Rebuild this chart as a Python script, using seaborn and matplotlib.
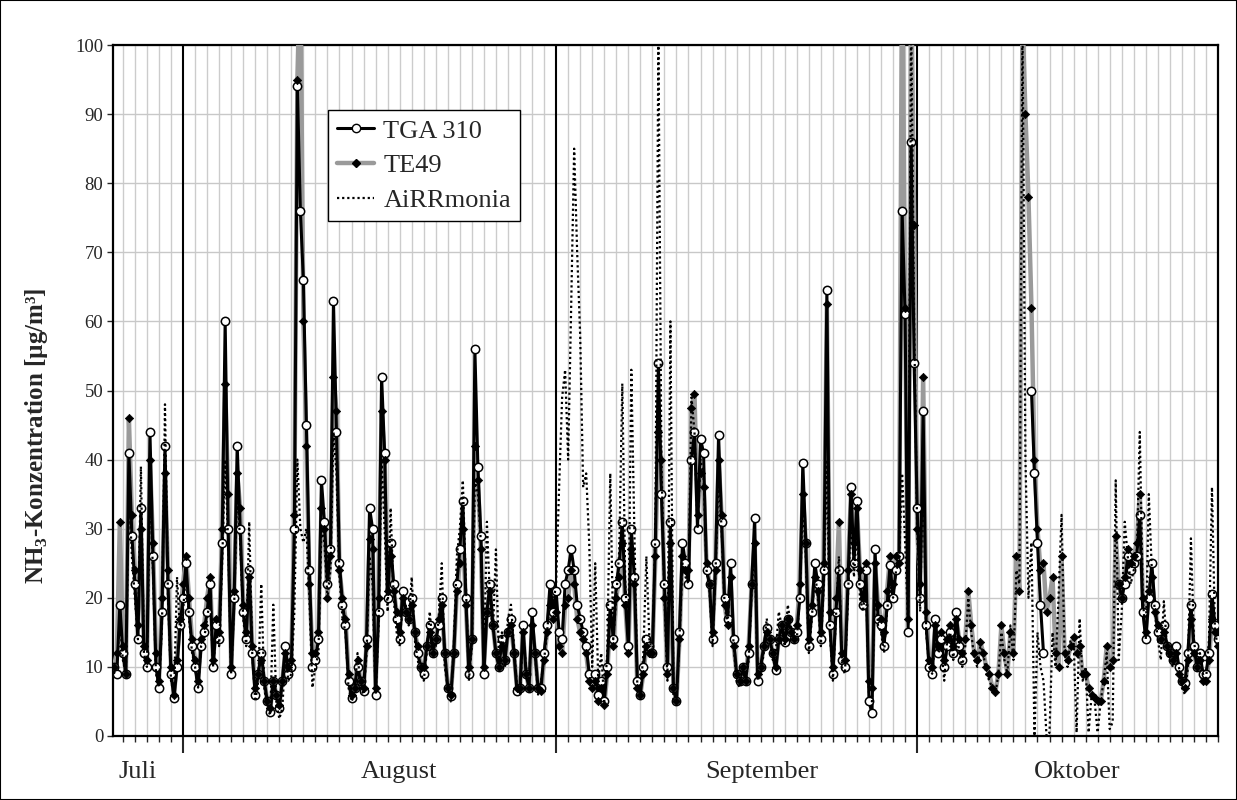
import matplotlib
matplotlib.use("Agg")
import matplotlib.pyplot as plt
import matplotlib.dates as mdates
from matplotlib.lines import Line2D
from matplotlib.patches import Rectangle
import seaborn as sns
import numpy as np
import pandas as pd

nan = np.nan

# 6-hourly values, first sample 26 July 06:00
start = "2010-07-26 06:00"

tga = [10, 9, 19,
       12, 9, 41, 29,  22, 14, 33, 12,  10, 44, 26, 10,  7, 18, 42, 22,  9, 5.5, 10, 16,
       20, 25, 18, 13,  10, 7, 13, 15,  18, 22, 10, 16,  14, 28, 60, 30,  9, 20, 42, 30,
       18, 14, 24, 12,  6, 9, 12, 8,  5, 3.5, 8, 6,  4, 8, 13, 9,  10, 30, 94, 76,
       66, 45, 24, 10,  11, 14, 37, 31,  22, 27, 63, 44,  25, 19, 16, 8,  5.5, 7, 10, 8,
       6.5, 14, 33, 30,  6, 18, 52, 41,  20, 28, 22, 17,  14, 21, 18, 17,  20, 15, 12, 10,
       9, 13, 16, 12,  14, 16, 20, 12,  7, 5.8, 12, 22,  27, 34, 20, 9,  14, 56, 39, 29,
       9, 18, 22, 16,  12, 10, 14, 11,  15, 17, 12, 6.5,  7, 16, 9, 7,  18, 12, 7, 7,
       12, 16, 22, 18,
       21, 15, 14, 22,  24, 27, 24, 19,  17, 15, 13, 9,  8, 9, 6, 8,  5, 10, 19, 14,
       22, 25, 31, 20,  13, 30, 23, 8,  6, 10, 14, 13,  12, 28, 54, 35,  22, 10, 31, 7,
       5, 15, 28, 25,  22, 40, 44, 30,  43, 41, 24, 22,  14, 25, 43.6, 31,  20, 17, 25, 14,
       9, 8, 10, 8,  12, 22, 31.6, 8,  10, 13, 15.6, 14,  12, 9.5, 14, 16,  13.6, 17, 15, 14,
       15, 20, 39.5, 28,  13, 18, 25, 22,  14, 24, 64.5, 16,  9, 18, 24, 11,  10, 22, 36, 25,
       34, 22, 19, 24,  5, 3.3, 27, 17,  16, 13, 19, 24.8,  20, 24, 26, 76,  61, 15, 86, 54,
       33, 20, 47, 16,  10, 9, 17, 12,  14, 10, 13, 15,  12, 18, 13, 11,  nan, nan, nan, nan,
       nan, nan, nan, nan,  nan, nan, nan, nan,  nan, nan, nan, nan,  nan, nan, nan, nan,
       nan, nan, 50, 38,  28, 19, 12, nan,  nan, nan, nan, nan,  nan, nan, nan, nan,
       nan, nan, nan, nan,  nan, nan, nan, nan,  nan, nan, nan, nan,  nan, nan, nan, 22,
       20, 22, 26, 24,  25, 26, 32, 18,  14, 20, 25, 19,  15, 14, 16, 13,  12, 11, 13, 10,
       8, 7.6, 12, 19,  13, 10, 12, 9,  9, 12, 20.5, 16,  14]

te49 = [10, 12, 31,
        13, 9, 46, 32,  24, 16, 30, 13,  11, 40, 28, 12,  8, 20, 38, 24,  10, 6, 11, 17,
        22, 26, 20, 14,  11, 8, 14, 16,  20, 23, 11, 17,  15, 30, 51, 35,  10, 21, 38, 33,
        19, 15, 23, 13,  7, 9, 11, 8,  5, 4, 8, 6,  4.5, 8, 12, 10,  11, 32, 95, 112,
        60, 42, 22, 12,  12, 15, 33, 30,  20, 26, 52, 47,  24, 20, 17, 9,  6, 7, 11, 8,
        7, 13, 28.5, 27,  7, 20, 47, 40,  21, 26, 21, 18,  15, 20, 18, 17,  19, 15, 13, 10,
        10, 13, 15, 12,  14, 17, 19, 12,  7, 6, 12, 21,  25, 30, 19, 10,  14, 42, 37, 27,
        10, 18, 21, 16,  12, 10, 13, 11,  15, 16, 12, 7,  7, 15, 9, 7,  16, 12, 7, 6.5,
        11, 15, 19, 17,
        18, 13, 12, 19,  20, 24, 22, 17,  15, 14, 12, 8,  7, 8, 5, 7,  4.5, 9, 17, 13,
        20, 23, 28, 19,  12, 27, 22, 7,  6, 9, 13, 12,  12, 26, 44, 40,  20, 9, 28, 7,
        5, 14, 26, 24,  24, 47.5, 49.5, 32,  38, 36, 25, 22,  15, 24, 40, 32,  19, 16, 23, 13,
        9, 8, 10, 8,  13, 22, 28, 9,  10, 13, 15, 14,  12, 10, 14, 16,  14, 17, 15, 14,
        16, 22, 35, 28,  14, 19, 23, 21,  15, 25, 62.5, 18,  10, 20, 31, 12,  11, 24, 35, 28,
        33, 24, 20, 25,  8, 7, 25, 19,  17, 15, 21, 26,  22, 26, 25, 115,  62, 17, 112, 74,
        30, 22, 52, 18,  11, 10, 16, 13,  15, 11, 14, 16,  13, 17, 14, 12,  14, 21, 16, 12,
        11, 13.6, 12, 10,  9, 7, 6.4, 9,  16, 12, 9, 15,  12, 26, 21, 105,
        90, 78, 62, 40,  30, 24, 25, 18,  20, 23, 12, 10,  26, 12, 11, 13,
        14.3, 12, 13, 9,  9, 7, 6, 5.5,  5, 5, 8, 13,  10, 11, 29, 22,
        20, 23, 27, 25,  26, 28, 35, 20,  15, 21, 23, 18,  16, 14, 15, 13,  12, 11, 12, 9,
        8, 7, 11, 17,  12, 10, 11, 8,  8, 11, 17, 15,  13]

airr = [9, 10, 17,
        11, 9, 36, 26,  20, 14, 39, 12,  10, 36, 24, 9,  7, 16, 48, 20,  8, 6, 23, 15,
        18, 24, 17, 12,  10, 7, 13, 14,  17, 20, 10, 15,  13, 25, 40, 28,  9, 19, 36, 28,
        17, 13, 31, 12,  5, 8, 22, 7,  4, 3, 19, 5,  2.5, 4, 12, 8,  9, 18, 40, 30,
        28, 30, 20, 7,  10, 12, 30, 28,  20, 24, 44, 38,  23, 17, 15, 7,  5, 6, 12, 7,
        6, 12, 26, 22,  6, 16, 40, 30,  18, 33, 20, 15,  13, 20, 19, 16,  23, 14, 11, 9,
        8, 12, 18, 13,  13, 17, 25, 10,  7, 5, 13, 26,  30, 37, 22, 8,  13, 37, 35, 28,
        10, 31, 20, 15,  27, 11, 15, 10,  17, 19, 13, 7,  6, 15, 10, 8,  16, 12, 6, 8,
        11, 15, 20, 19,
        22, 36, 49, 53,  40, 62, 85, 70,  58, 36, 38, 28,  10, 25, 8, 12,  5, 12, 38, 14,
        20, 27, 51, 22,  14, 53, 30, 7,  6, 12, 26, 14,  12, 30, 101, 40,  20, 8, 60, 5,
        5, 14, 25, 23,  22, 49, 44, 30,  40, 38, 24, 21,  13, 24, 38, 30,  19, 16, 24, 13,
        8, 7, 10, 8,  11, 21, 28, 8,  9, 12, 17, 14,  11, 12, 18, 16,  13, 19, 16, 14,
        14, 20, 34, 26,  12, 17, 24, 20,  13, 22, 40, 15,  8, 17, 26, 10,  9, 20, 32, 23,
        30, 20, 18, 22,  6, 5, 22, 16,  15, 12, 18, 22,  20, 24, 25, 38,  28, 16, 105, 60,
        30, 18, 40, 15,  10, 9, 14, 12,  13, 8, 14, 15,  11, 16, 12, 10,  13, 20, 15, 11,
        10, 13, 12, 9,  8, 7, 6, 9,  15, 11, 9, 16,  11, 24, 22, 104,
        40, 20, 28, 0,  15, 10, 8, 0,  0.5, 15, 10, 20,  32, 12, 10, 14,
        14, 0.5, 17, 8,  10, 0.5, 6, 5,  0.5, 5, 8, 12,  1, 2, 37, 11,
        18, 31, 26, 22,  24, 26, 44, 20,  14, 35, 24, 18,  14, 11, 19.5, 13,  11, 10, 12, 10,
        7, 6, 10, 28.6,  14, 10, 12, 9,  8, 14, 36, 15,  13]

month_names = ["Juli", "August", "September", "Oktober"]
month_label_pos = ["2010-07-28 06:00", "2010-08-18 22:00", "2010-09-18 03:00", "2010-10-14 08:00"]
month_starts = ["2010-08-01", "2010-09-01", "2010-10-01"]

times = pd.date_range(start, periods=len(tga), freq="6h")
df = pd.DataFrame({"time": times, "TGA 310": tga, "TE49": te49, "AiRRmonia": airr})

sns.set_theme(style="white")
plt.rcParams["font.family"] = ["Liberation Serif", "DejaVu Serif"]
plt.rcParams["mathtext.fontset"] = "custom"
plt.rcParams["mathtext.rm"] = "Liberation Serif"
plt.rcParams["mathtext.bf"] = "Liberation Serif:bold"

fig = plt.figure(figsize=(12.37, 8), dpi=100)
ax = fig.add_axes([113 / 1237, 1 - 736 / 800, 1105 / 1237, 691 / 800])

dots = (0, (1, 1.3))

# TE49 grey line underneath
sns.lineplot(data=df, x="time", y="TE49", color="#9a9a9a", lw=3.2, ax=ax,
             estimator=None, zorder=3, legend=False)

# TGA 310: black line with white circles, broken where data is missing
tg = df[["time", "TGA 310"]].copy()
tg["seg"] = tg["TGA 310"].isna().cumsum()
tg = tg.dropna()
sns.lineplot(data=tg, x="time", y="TGA 310", units="seg", estimator=None,
             color="black", lw=2.2, marker="o", markersize=6,
             markerfacecolor="white", markeredgecolor="black", markeredgewidth=1.1,
             ax=ax, zorder=4, legend=False)

# TE49 diamonds on top
sns.scatterplot(data=df, x="time", y="TE49", marker="D", s=18, color="black",
                edgecolor="black", linewidth=0.5, ax=ax, zorder=5, legend=False)

# AiRRmonia dotted
sns.lineplot(data=df, x="time", y="AiRRmonia", color="black", lw=1.6,
             linestyle=dots, ax=ax, estimator=None, zorder=6, legend=False)

ax.set_xlim(pd.Timestamp("2010-07-26 04:20"), pd.Timestamp("2010-10-26 00:00"))
ax.set_ylim(0, 100)
ax.set_yticks(np.arange(0, 101, 10))
ax.tick_params(axis="y", labelsize=13.5, direction="out", length=4, width=1, left=True, pad=3)

ax.xaxis.set_major_locator(mdates.MonthLocator())
ax.xaxis.set_minor_locator(mdates.DayLocator())
ax.xaxis.set_major_formatter(plt.NullFormatter())
ax.tick_params(axis="x", which="major", direction="out", length=12, width=1.5, bottom=True)
ax.tick_params(axis="x", which="minor", direction="out", length=4, width=1, bottom=True)

ax.grid(True, which="minor", axis="x", color="#cccccc", lw=1)
ax.grid(True, which="major", axis="y", color="#c8c8c8", lw=1)
ax.set_axisbelow(True)
for m in month_starts:
    ax.axvline(pd.Timestamp(m), color="black", lw=1.5, zorder=1.5)

for name, pos in zip(month_names, month_label_pos):
    ax.text(pd.Timestamp(pos), -0.052, name, transform=ax.get_xaxis_transform(),
            ha="center", va="center", fontsize=19)

ax.set_xlabel("")
ax.set_ylabel(r"NH$_\mathbf{3}$-Konzentration [µg/m³]", fontsize=18, fontweight="bold")
ax.yaxis.set_label_coords(-0.057, 0.434)

for s in ax.spines.values():
    s.set_color("black")
    s.set_linewidth(1.6)

handles = [
    Line2D([], [], color="black", lw=2.2, marker="o", markersize=6,
           markerfacecolor="white", markeredgecolor="black"),
    Line2D([], [], color="#9a9a9a", lw=3.2, marker="D", markersize=4.5,
           markerfacecolor="black", markeredgecolor="black"),
    Line2D([], [], color="black", lw=1.6, linestyle=dots),
]
leg = ax.legend(handles, ["TGA 310", "TE49", "AiRRmonia"], loc="upper left",
                bbox_to_anchor=((328 - 113) / 1105, (736 - 110) / 691),
                fontsize=19, frameon=True, fancybox=False, framealpha=1,
                edgecolor="black", handlelength=1.4, handletextpad=0.35,
                borderpad=0.35, borderaxespad=0, labelspacing=0.42)
leg.get_frame().set_linewidth(1)
leg.set_zorder(10)

fig.patches.append(Rectangle((0, 0), 1, 1, transform=fig.transFigure, fill=False,
                             edgecolor="black", lw=1.5))

fig.savefig("out.png", dpi=100)
